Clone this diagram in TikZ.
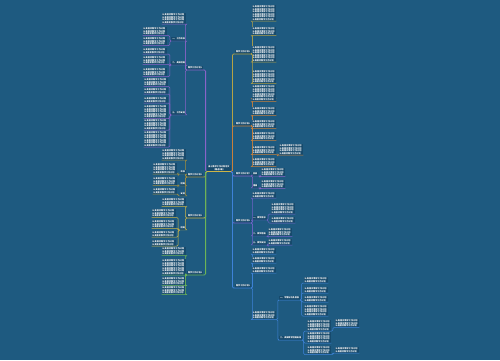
\documentclass[tikz,border=0pt]{standalone}
\usepackage{fontspec}
\newfontfamily\cjk{Noto Sans CJK SC}
\XeTeXlinebreaklocale "zh"
\XeTeXlinebreakskip = 0pt plus 0.5pt
\definecolor{bg}{HTML}{1E5A80}
\definecolor{box}{HTML}{174A6C}
\definecolor{cpurple}{HTML}{8A63C8}
\definecolor{colive}{HTML}{A58F3C}
\definecolor{cyellow}{HTML}{CDB547}
\definecolor{cgreen}{HTML}{6DB356}
\definecolor{cmoss}{HTML}{B4A245}
\definecolor{corange}{HTML}{C8803A}
\definecolor{cviolet}{HTML}{7063C8}
\definecolor{cblue}{HTML}{3E82D8}

% Fließtext der Blätter, #1 = etwa Zeilenzahl
\newcommand\wenzi[1]{\foreach\k in {1,...,#1}{认真落实教学工作计划}}
% Verbindung Elternknoten -> Kind, inkl. Unterstrich
\newcommand\linkL[3]{\draw[link=#3] (#1.south west) -- ++(-1.5,0) |- (#2.south east) -- (#2.south west);}
\newcommand\linkR[3]{\draw[link=#3] (#1.south east) -- ++(1.5,0) |- (#2.south west) -- (#2.south east);}

\begin{document}
\begin{tikzpicture}[
    x=0.5mm, y=-0.5mm,
    txt/.style={font=\cjk\bfseries\fontsize{3}{3.6}\selectfont, text=white, fill=box, inner sep=0.3mm},
    leaf/.style={txt, text width=11.4mm, align=left},
    leafL/.style={leaf, anchor=north east},
    leafR/.style={leaf, anchor=north west},
    topic/.style={txt, inner sep=0.45mm},
    subL/.style={topic, anchor=south east},
    subR/.style={topic, anchor=south west},
    link/.style={draw=#1, line width=0.7pt, rounded corners=0.6mm},
    trunk/.style={link=#1, line width=1.1pt},
  ]

  \fill[bg] (0,0) rectangle (500,360);

  % Mitte
  \node[txt, align=center, inner sep=0.6mm] (root) at (219,168) {高三教学工作计划范文\\（精选9篇）};

  % erste Ebene links
  \node[subL] (l1) at (203,70)  {教学工作计划1};
  \node[subL] (l2) at (203,177) {教学工作计划2};
  \node[subL] (l3) at (203,218) {教学工作计划3};
  \node[subL] (l4) at (203,275) {教学工作计划4};
  % erste Ebene rechts
  \node[subR] (r1) at (235,54)  {教学工作计划5};
  \node[subR] (r2) at (235,126) {教学工作计划6};
  \node[subR] (r3) at (235,176) {教学工作计划7};
  \node[subR] (r4) at (235,223) {教学工作计划8};
  \node[subR] (r5) at (235,288) {教学工作计划9};

  \draw[trunk=cpurple] (root.south west) -- ++(-1.5,0) |- (l1.south east) -- (l1.south west);
  \draw[trunk=colive]  (root.south west) -- ++(-1.5,0) |- (l2.south east) -- (l2.south west);
  \draw[trunk=cyellow] (root.south west) -- ++(-1.5,0) |- (l3.south east) -- (l3.south west);
  \draw[trunk=cgreen]  (root.south west) -- ++(-1.5,0) |- (l4.south east) -- (l4.south west);
  \draw[trunk=cmoss]   (root.south east) -- ++(1.5,0) |- (r1.south west) -- (r1.south east);
  \draw[trunk=corange] (root.south east) -- ++(1.5,0) |- (r2.south west) -- (r2.south east);
  \draw[trunk=cpurple] (root.south east) -- ++(1.5,0) |- (r3.south west) -- (r3.south east);
  \draw[trunk=cviolet] (root.south east) -- ++(1.5,0) |- (r4.south west) -- (r4.south east);
  \draw[trunk=cblue]   (root.south east) -- ++(1.5,0) |- (r5.south west) -- (r5.south east);
  \draw[trunk=cyellow] (root.south west) -- (root.south east);

  % Zweig 1
  \node[leafL] (l1a) at (186,13) {\wenzi{4}};
  \node[subL] (l1b) at (186,41)  {一、工作目标};
  \node[subL] (l1c) at (186,65)  {二、具体措施};
  \node[subL] (l1d) at (186,115) {三、工作安排};
  \foreach \s in {a,b,c,d} \linkL{l1}{l1\s}{cpurple};
  \foreach \y/\n [count=\i] in {27/3,37/3} {
    \node[leafL] (l1b\i) at (167,\y) {\wenzi{\n}};
    \linkL{l1b}{l1b\i}{cpurple}
  }
  \foreach \y/\n [count=\i] in {48/2,56/3,68/3} {
    \node[leafL] (l1c\i) at (167,\y) {\wenzi{\n}};
    \linkL{l1c}{l1c\i}{cpurple}
  }
  \foreach \y/\n [count=\i] in {78/3,88/2,97/2,105/5,119/4,131/6} {
    \node[leafL] (l1d\i) at (168,\y) {\wenzi{\n}};
    \linkL{l1d}{l1d\i}{cpurple}
  }

  % Zweig 2
  \node[leafL] (l2a) at (186,149) {\wenzi{4}};
  \linkL{l2}{l2a}{colive}
  \foreach \y/\t/\n [count=\i] in {174/目标/4,186/措施/3,196/安排/2} {
    \node[subL] (l2s\i) at (186,\y) {\t};
    \linkL{l2}{l2s\i}{colive}
  }
  \node[leafL] (l2t1) at (177,163) {\wenzi{4}};
  \node[leafL] (l2t2) at (177,177) {\wenzi{3}};
  \node[leafL] (l2t3) at (177,188) {\wenzi{2}};
  \foreach \i in {1,2,3} \linkL{l2s\i}{l2t\i}{colive};

  % Zweig 3
  \node[leafL] (l3a) at (186,198) {\wenzi{3}};
  \node[subL] (l3b) at (186,230) {措施};
  \linkL{l3}{l3a}{cyellow}
  \linkL{l3}{l3b}{cyellow}
  \foreach \y/\n [count=\i] in {209/3,220/3,231/2,240/2} {
    \node[leafL] (l3b\i) at (176,\y) {\wenzi{\n}};
    \linkL{l3b}{l3b\i}{cyellow}
  }

  % Zweig 4
  \foreach \y/\n [count=\i] in {247/3,259/6,277/3,286/3} {
    \node[leafL] (l4\i) at (186,\y) {\wenzi{\n}};
    \linkL{l4}{l4\i}{cgreen}
  }

  % Zweig 5
  \foreach \y/\n [count=\i] in {5/6,27/3,46/6,70/5} {
    \node[leafR] (r1\i) at (252,\y) {\wenzi{\n}};
    \linkR{r1}{r1\i}{cmoss}
  }

  % Zweig 6
  \foreach \y/\n [count=\i] in {85/5,98/1,107/3,120/3,132/3,146/3,158/3} {
    \node[leafR] (r2\i) at (252,\y) {\wenzi{\n}};
    \linkR{r2}{r2\i}{corange}
  }
  \node[leafR] (r26x) at (279,144) {\wenzi{4}};
  \linkR{r26}{r26x}{corange}

  % Zweig 7
  \node[subR] (r3a) at (252,176) {目标};
  \node[subR] (r3b) at (252,188) {措施};
  \node[leafR] (r3a1) at (261,168) {\wenzi{3}};
  \node[leafR] (r3b1) at (261,180) {\wenzi{3}};
  \foreach \s in {a,b} {
    \linkR{r3}{r3\s}{cpurple}
    \linkR{r3\s}{r3\s1}{cpurple}
  }

  % Zweig 8
  \node[leafR] (r4a) at (252,192) {\wenzi{2}};
  \node[subR] (r4b) at (252,220) {一、教学目标};
  \node[subR] (r4c) at (252,236) {二、教学措施};
  \node[subR] (r4d) at (252,245) {三、教学安排};
  \foreach \s in {a,b,c,d} \linkR{r4}{r4\s}{cviolet};
  \node[leafR] (r4b1) at (271,203) {\wenzi{4}};
  \node[leafR] (r4b2) at (271,217) {\wenzi{2}};
  \node[leafR] (r4c1) at (268,228) {\wenzi{3}};
  \node[leafR] (r4d1) at (268,239) {\wenzi{2}};
  \linkR{r4b}{r4b1}{cviolet}
  \linkR{r4b}{r4b2}{cviolet}
  \linkR{r4c}{r4c1}{cviolet}
  \linkR{r4d}{r4d1}{cviolet}

  % Zweig 9
  \foreach \y/\n [count=\i] in {248/2,257/2,267/2,311/3} {
    \node[leafR] (r5\i) at (252,\y) {\wenzi{\n}};
    \linkR{r5}{r5\i}{cblue}
  }
  \node[subR] (r5a) at (279,300) {一、学情分析及目标};
  \node[subR] (r5b) at (279,340) {二、具体教学措施安排};
  \linkR{r54}{r5a}{cblue}
  \linkR{r54}{r5b}{cblue}
  \foreach \y/\n [count=\i] in {277/2,287/2,296/2,305/4} {
    \node[leafR] (r5a\i) at (304,\y) {\wenzi{\n}};
    \linkR{r5a}{r5a\i}{cblue}
  }
  \foreach \y/\n [count=\i] in {320/4,332/4,346/3} {
    \node[leafR] (r5b\i) at (307,\y) {\wenzi{\n}};
    \linkR{r5b}{r5b\i}{cblue}
  }
  \node[leafR] (r5b1x) at (335,319) {\wenzi{3}};
  \node[leafR] (r5b3x) at (335,347) {\wenzi{2}};
  \linkR{r5b1}{r5b1x}{cblue}
  \linkR{r5b3}{r5b3x}{cblue}

\end{tikzpicture}
\end{document}
